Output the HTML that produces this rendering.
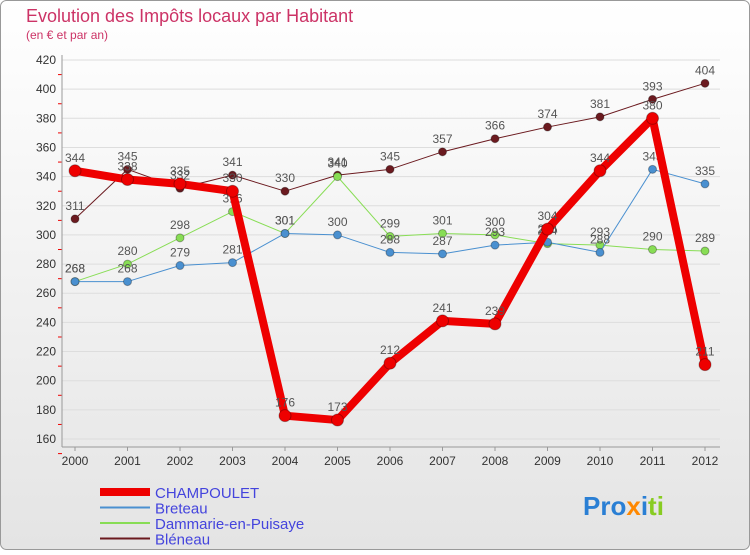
<!DOCTYPE html>
<html><head><meta charset="utf-8"><style>
body{margin:0;width:750px;height:550px;overflow:hidden;font-family:"Liberation Sans",sans-serif;}
</style></head><body>
<svg width="750" height="550" xmlns="http://www.w3.org/2000/svg" font-family="Liberation Sans, sans-serif">
<defs>
<linearGradient id="bg" x1="0" y1="0" x2="0" y2="1"><stop offset="0" stop-color="#ffffff"/><stop offset="1" stop-color="#e4e4e4"/></linearGradient>
</defs>
<rect x="0.5" y="0.5" width="749" height="549" rx="6" fill="url(#bg)" stroke="#999"/>
<text x="26" y="22" font-size="18" fill="#cc3366">Evolution des Impôts locaux par Habitant</text>
<text x="26" y="39" font-size="12" fill="#cc3366">(en € et par an)</text>
<g id="axes"></g>
<g id="series"></g>
<g id="legend"></g>
<text x="583" y="515" font-size="26" font-weight="bold" font-family="Liberation Sans, DejaVu Sans, sans-serif"><tspan fill="#2a7fd4">Pro</tspan><tspan fill="#ff8800">x</tspan><tspan fill="#2a7fd4">i</tspan><tspan fill="#88cc22">ti</tspan></text>
</svg>
<script>
const years=["2000","2001","2002","2003","2004","2005","2006","2007","2008","2009","2010","2011","2012"];
const yTicks=[160,180,200,220,240,260,280,300,320,340,360,380,400,420];
const champoulet=[344,338,335,330,176,173,212,241,239,304,344,380,211];
const breteau=[268,268,279,281,301,300,288,287,293,295,288,345,335];
const dammarie=[268,280,298,316,301,340,299,301,300,294,293,290,289];
const bleneau=[311,345,332,341,330,341,345,357,366,374,381,393,404];
const NS="http://www.w3.org/2000/svg";
const X0=75,XW=52.5,Y0=60,YMAX=420,YMIN=160,YH=379;
const x=i=>X0+i*XW;
const y=v=>Y0+(YMAX-v)*YH/(YMAX-YMIN);
function mk(tag,attrs,parent,txt){const e=document.createElementNS(NS,tag);for(const k in attrs)e.setAttribute(k,attrs[k]);if(txt!==undefined)e.textContent=txt;parent.appendChild(e);return e;}
const ax=document.getElementById('axes');
yTicks.forEach(v=>{
 const l=mk('line',{x1:62,x2:720,y1:y(v),y2:y(v),stroke:'#dddddd'},ax);
 
 
 const t=mk('text',{x:56,y:y(v)+4,'font-size':12,fill:'#333','text-anchor':'end'},ax,String(v));
 
 
 const m=mk('line',{x1:58,x2:62,y1:y(v)+14.6,y2:y(v)+14.6,stroke:'#e00'},ax);
 
 
});
years.forEach((yr,i)=>{
 const t=mk('text',{x:x(i),y:465,'font-size':12,fill:'#333','text-anchor':'middle'},ax,yr);
 
 
 const k=mk('line',{x1:x(i),x2:x(i),y1:447,y2:451,stroke:'#999'},ax);
 
 
});
const a1=mk('line',{x1:62,x2:62,y1:55,y2:447,stroke:'#999'},ax);


const a2=mk('line',{x1:62,x2:720,y1:447,y2:447,stroke:'#999'},ax);


const sg=document.getElementById('series');
function drawSeries(vals,color,w,r,name){
 const g=mk('g',{},sg);
 
 
 const p=mk('polyline',{points:vals.map((v,i)=>x(i)+','+y(v)).join(' '),fill:'none',stroke:color,'stroke-width':w,'stroke-linejoin':'round'},g);
 
 
 vals.forEach((v,i)=>{
  const c=mk('circle',{cx:x(i),cy:y(v),r:r,fill:color,stroke:'rgba(0,0,0,0.3)'},g);
  
  
  const t=mk('text',{x:x(i),y:y(v)-9,'font-size':12,fill:'#555','text-anchor':'middle'},g,String(v));
  
  
 });
}
drawSeries(bleneau,'#6b1a1f',1,4,'bleneau');
drawSeries(dammarie,'#88dd55',1,4,'dammarie');
drawSeries(breteau,'#4a90d0',1,4,'breteau');
drawSeries(champoulet,'#ee0000',8,6,'champoulet');
const lg=document.getElementById('legend');
[['CHAMPOULET','#ee0000',8],['Breteau','#4a90d0',2],['Dammarie-en-Puisaye','#88dd55',2],['Bléneau','#6b1a1f',2]].forEach((d,i)=>{
 const yy=492+i*15.5;
 const l=mk('line',{x1:100,x2:150,y1:yy,y2:yy,stroke:d[1],'stroke-width':d[2]},lg);
 
 
 const t=mk('text',{x:155,y:yy+6,'font-size':15,fill:'#4444dd'},lg,d[0]);
 
 
});
</script>
</body></html>
